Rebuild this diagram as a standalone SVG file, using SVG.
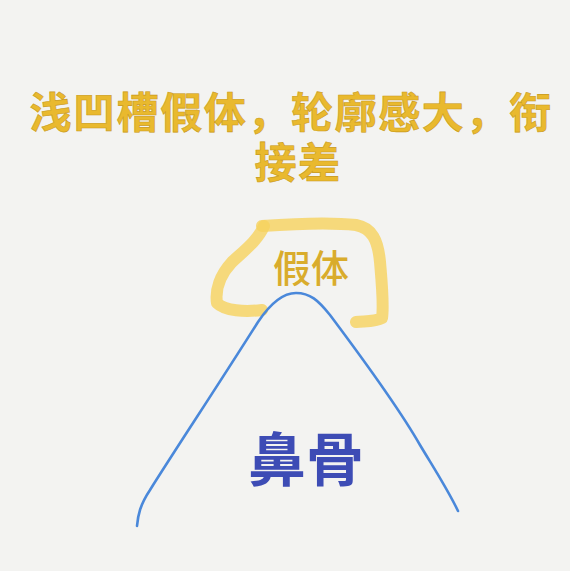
<svg xmlns="http://www.w3.org/2000/svg" width="570" height="571" viewBox="0 0 570 571">
<style>
.t{font-family:"Noto Sans CJK SC","Noto Sans",sans-serif;text-anchor:middle}
.title{fill:#E9B92E;font-size:42px;font-weight:bold;stroke:#C99A1C;stroke-width:0.6px;letter-spacing:1.6px}
.jt{fill:#D9AC2C;font-size:38px;font-weight:500}
.bg{fill:#3D4CB5;font-size:58px;font-weight:bold}
.hl{fill:none;stroke:#F6D25E;stroke-opacity:0.8;stroke-width:12;stroke-linecap:round;stroke-linejoin:round}
</style>
<rect width="570" height="571" fill="#F3F3F1"/>
<g id="title">
<text class="t title" x="291" y="128">浅凹槽假体，轮廓感大，衔</text>
<text class="t title" x="298" y="178">接差</text>
</g>
<g id="connectors">
<path class="hl" d="M262,226 C290,224 330,222 356,225 C372,228 378,240 380,262 C382,285 384,305 382,318 C375,322 365,321 356,322"/>
<path class="hl" d="M264,226 C258,240 245,250 232,262 C220,275 215,290 217,303 C225,311 245,312 262,310"/>
<path d="M137,526 C138,515 140,505 150,490 C175,450 215,390 258,322 C270,304 282,293 296,293 C310,293 318,300 330,315 C360,355 400,410 420,445 C435,470 448,490 458,511" fill="none" stroke="#4A88DA" stroke-width="2.6" stroke-linecap="round"/>
</g>
<g id="prosthesis">
<text class="t jt" x="311" y="282">假体</text>
</g>
<g id="nasal-bone">
<text class="t bg" x="306" y="481">鼻骨</text>
</g>
</svg>
